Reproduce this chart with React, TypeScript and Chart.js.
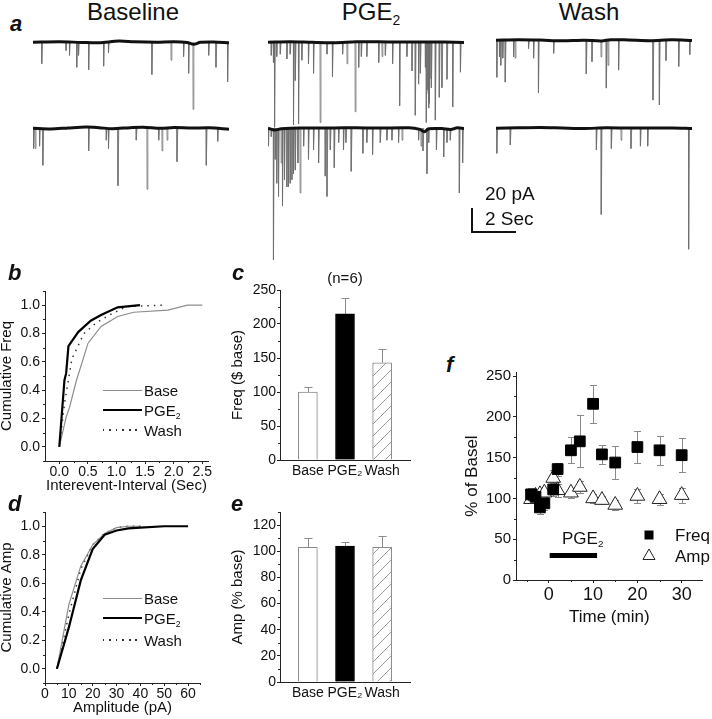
import React, { useEffect, useRef } from 'react';
import { Chart, registerables } from 'chart.js';

Chart.register(...registerables);

const FONT = '"Liberation Sans", Arial, Helvetica, sans-serif';
Chart.defaults.font.family = FONT;

// ---------------- Panel a : sEPSC traces (spike time in s, amplitude in pA) ----------------
const traceDuration = 8.9;
const baseRow1Spikes: [number, number][] = [[0.39, 18], [1.49, 7], [1.65, 11], [1.98, 21], [2.06, 11], [2.52, 23], [3.2, 20], [3.42, 9], [5.39, 27], [6.26, 15], [6.83, 12], [7.06, 26], [7.26, 56], [7.97, 11], [8.3, 21], [8.83, 33]];
const baseRow2Spikes: [number, number][] = [[0.02, 17], [0.09, 17], [0.29, 15], [0.44, 31], [2.52, 19], [3.32, 10], [3.42, 17], [3.85, 48], [4.68, 10], [5.17, 51], [5.7, 10], [5.85, 19], [6.08, 10], [6.53, 28], [7.86, 31], [8.38, 11]];
const pgeRow1Spikes: [number, number][] = [[0.14, 11], [0.24, 17], [0.29, 71], [0.39, 12], [0.55, 10], [0.85, 14], [1.0, 10], [1.15, 69], [1.23, 32], [1.38, 68], [1.53, 15], [1.83, 18], [2.06, 26], [2.36, 67], [2.67, 10], [2.92, 29], [3.38, 10], [3.58, 18], [3.95, 58], [4.11, 21], [4.23, 12], [4.48, 12], [5.02, 17], [5.17, 12], [5.32, 11], [5.65, 18], [5.97, 53], [6.3, 12], [6.53, 24], [6.68, 61], [6.83, 35], [6.91, 26], [7.14, 21], [7.18, 67], [7.22, 40], [7.26, 43], [7.29, 55], [7.32, 51], [7.35, 30], [7.41, 38], [7.59, 65], [7.77, 46], [7.89, 38], [8.12, 31], [8.38, 54], [8.73, 25]];
const pgeRow2Spikes: [number, number][] = [[0.01, 15], [0.14, 7], [0.24, 110], [0.32, 26], [0.39, 46], [0.47, 57], [0.59, 29], [0.65, 65], [0.74, 43], [0.85, 49], [0.92, 49], [1.0, 46], [1.08, 43], [1.15, 38], [1.23, 35], [1.35, 29], [1.45, 54], [1.61, 15], [1.83, 26], [2.06, 18], [2.29, 29], [2.59, 40], [2.67, 57], [2.82, 18], [3.0, 33], [3.2, 12], [3.42, 18], [3.53, 12], [3.77, 36], [4.3, 21], [4.48, 12], [4.74, 22], [5.09, 12], [5.39, 10], [5.62, 10], [5.92, 12], [6.08, 10], [6.83, 10], [6.94, 15], [7.03, 19], [7.21, 38], [7.29, 12], [7.64, 18], [7.97, 24], [8.12, 12], [8.27, 10], [8.68, 54], [8.83, 29]];
const washRow1Spikes: [number, number][] = [[0.03, 31], [0.15, 14], [0.21, 21], [0.3, 15], [0.41, 35], [0.79, 14], [0.86, 15], [1.47, 7], [1.7, 15], [1.92, 44], [2.61, 11], [4.09, 28], [4.35, 18], [4.76, 14], [5.0, 40], [5.08, 21], [5.56, 25], [7.12, 50], [7.41, 54], [7.71, 17], [8.29, 22], [8.79, 12]];
const washRow2Spikes: [number, number][] = [[0.03, 21], [0.64, 14], [4.55, 18], [4.77, 72], [5.23, 17], [5.67, 10], [6.12, 17], [6.55, 15], [6.88, 15], [8.74, 101]];

// slow baseline drift of each trace (time s, pA)
const baseRow1Drift: [number, number][] = [[0, 0], [1.2, 0.4], [2.2, -0.2], [3.0, -0.5], [3.9, 0.9], [4.6, 0.3], [5.6, 0], [6.4, 0.3], [7.0, -0.3], [7.3, -1.8], [7.6, -0.1], [8.2, 0.2], [8.9, -0.4]];
const baseRow2Drift: [number, number][] = [[0, 0], [0.8, -0.6], [1.6, 0.2], [2.4, 0.9], [3.0, 0.4], [3.6, -0.4], [4.4, 0.4], [5.0, 0.8], [5.8, -0.1], [6.4, 0.6], [7.2, 0.1], [8.0, 0.3], [8.9, -0.8]];
const pgeRow1Drift: [number, number][] = [[0, 0], [1, 0.4], [2, -0.1], [3, -0.4], [4, 0.3], [5, 0.4], [6, 0.1], [7, 0.2], [8, 0.1], [8.9, -0.2]];
const pgeRow2Drift: [number, number][] = [[0, 0], [0.3, -1.5], [0.6, -0.5], [1.5, 0.2], [3, 0.2], [4, 0.4], [5, 0.1], [6.4, 0.3], [6.9, -1], [7.1, -3], [7.3, -0.5], [7.9, -0.3], [8.3, -1], [8.6, 0.4], [8.9, -0.3]];
const washRow1Drift: [number, number][] = [[0, 0], [1, 0.4], [2, 0.1], [3, -0.5], [4, -0.1], [4.8, -0.6], [5.2, 0.4], [6, 0.2], [7, -0.4], [8, 0.3], [8.9, -0.3]];
const washRow2Drift: [number, number][] = [[0, 0], [1, 0.3], [2, 0.6], [3, 0.2], [4, -0.2], [5, 0.3], [6, 0.1], [7, 0.1], [8, 0.2], [8.9, -0.3]];

// ---------------- Panel b : cumulative inter-event interval ----------------
const ieiBaseX = [0, 0.12, 0.18, 0.3, 0.41, 0.5, 0.73, 1.02, 1.3, 1.9, 2.24, 2.5];
const ieiBaseY = [0, 0.21, 0.28, 0.47, 0.61, 0.73, 0.85, 0.92, 0.95, 0.965, 1.0, 1.0];
const ieiPgeX = [0, 0.09, 0.12, 0.16, 0.33, 0.55, 0.73, 1.02, 1.41];
const ieiPgeY = [0, 0.47, 0.52, 0.71, 0.81, 0.89, 0.93, 0.985, 1.0];
const ieiWashX = [0, 0.05, 0.1, 0.22, 0.43, 0.66, 0.92, 1.18, 1.83];
const ieiWashY = [0, 0.17, 0.33, 0.62, 0.8, 0.88, 0.94, 0.99, 1.0];
const ieiXTicks = [0, 0.5, 1.0, 1.5, 2.0, 2.5];
const cumTicks = [0, 0.2, 0.4, 0.6, 0.8, 1.0];

// ---------------- Panel c / e : bar charts ----------------
const barCategories = ['Base', 'PGE\u2082', 'Wash'];
const freqMeans = [100, 215, 143];
const freqErrors = [8, 23, 20];
const freqTicks = [0, 50, 100, 150, 200, 250];
const ampMeans = [103, 104, 103];
const ampErrors = [7, 3, 9];
const ampTicks = [0, 20, 40, 60, 80, 100, 120];

// ---------------- Panel d : cumulative amplitude ----------------
const ampBaseX = [5, 10, 15, 20, 25, 30, 35, 40];
const ampBaseY = [0, 0.45, 0.72, 0.87, 0.95, 0.99, 1.0, 1.0];
const ampPgeX = [5, 10, 15, 20, 25, 30, 35, 40, 50, 60];
const ampPgeY = [0, 0.29, 0.62, 0.84, 0.94, 0.97, 0.985, 0.99, 1.0, 1.0];
const ampWashX = [5, 10, 15, 20, 25, 30, 35, 40];
const ampWashY = [0, 0.38, 0.7, 0.87, 0.95, 0.99, 1.0, 1.0];
const ampXTicks = [0, 10, 20, 30, 40, 50, 60];

// ---------------- Panel f : time course ----------------
const timeMin = [-4, -3, -2, -1, 1, 2, 5, 7, 10, 12, 15, 20, 25, 30];
const freqPct = [105, 102, 89, 94, 111, 136, 159, 170, 216, 154, 144, 163, 159, 153];
const freqPctErr = [8, 6, 8, 8, 8, 8, 16, 32, 23, 12, 20, 20, 18, 21];
const ampPct = [99, 103, 105, 107, 125, 110, 107, 114, 100, 98, 92, 103, 99, 104];
const ampPctErr = [5, 6, 5, 5, 10, 8, 6, 7, 5, 5, 6, 8, 7, 9];
const pgeApplication = [0.2, 10.9];
const pgeBarLevel = 30;
const pctTicks = [0, 50, 100, 150, 200, 250];
const timeTicks = [0, 10, 20, 30];

// ---------------- helpers ----------------
type Area = { l: number; t: number; r: number; b: number };

const zip = (xs: number[], ys: number[]) => xs.map((x, i) => ({ x, y: ys[i] }));
const steps = (from: number, to: number, step: number) => {
  const out: number[] = [];
  for (let v = from; v <= to + 1e-9; v += step) out.push(+v.toFixed(4));
  return out;
};

function minorTicks(xs: number[], ys: number[]) {
  return {
    id: 'minorTicks',
    afterDraw(chart: any) {
      const ctx = chart.ctx;
      const ca = chart.chartArea;
      ctx.save();
      ctx.strokeStyle = '#222';
      ctx.lineWidth = 1;
      ctx.beginPath();
      xs.forEach((v) => {
        const px = Math.round(chart.scales.x.getPixelForValue(v)) + 0.5;
        ctx.moveTo(px, ca.bottom);
        ctx.lineTo(px, ca.bottom + 2);
      });
      ys.forEach((v) => {
        const py = Math.round(chart.scales.y.getPixelForValue(v)) + 0.5;
        ctx.moveTo(ca.left, py);
        ctx.lineTo(ca.left - 2, py);
      });
      ctx.stroke();
      ctx.restore();
    },
  };
}

const errorBarPlugin = {
  id: 'errBars',
  beforeDatasetsDraw(chart: any) {
    const ctx = chart.ctx;
    const ys = chart.scales.y;
    chart.data.datasets.forEach((ds: any, di: number) => {
      if (!ds.errors) return;
      const meta = chart.getDatasetMeta(di);
      ctx.save();
      ctx.strokeStyle = ds.errColor || '#8a8a8a';
      ctx.lineWidth = 1;
      ctx.beginPath();
      meta.data.forEach((el: any, i: number) => {
        const raw = ds.data[i];
        const v = typeof raw === 'number' ? raw : raw.y;
        const e = ds.errors[i];
        const x = Math.round(el.x) + 0.5;
        const yHi = Math.round(ys.getPixelForValue(v + e)) + 0.5;
        const yLo = ds.errBoth ? Math.round(ys.getPixelForValue(v - e)) + 0.5 : el.y;
        const c = ds.capHalf || 4;
        ctx.moveTo(x, yLo);
        ctx.lineTo(x, yHi);
        ctx.moveTo(x - c, yHi);
        ctx.lineTo(x + c, yHi);
        if (ds.errBoth) {
          ctx.moveTo(x - c, yLo);
          ctx.lineTo(x + c, yLo);
        }
      });
      ctx.stroke();
      ctx.restore();
    });
  },
};

function linAxis(o: {
  axis: 'x' | 'y';
  min: number;
  max: number;
  ticks: number[];
  size: number;
  fmt: (v: number) => string;
  tickSize: number;
  title?: string;
  titleSize?: number;
  drawTicks?: boolean;
  pad?: number;
}) {
  const isY = o.axis === 'y';
  return {
    type: 'linear',
    position: isY ? 'left' : 'bottom',
    min: o.min,
    max: o.max,
    offset: false,
    afterBuildTicks: (s: any) => {
      s.ticks = o.ticks.map((v) => ({ value: v }));
    },
    afterFit: (s: any) => {
      if (isY) {
        s.width = o.size;
        s.paddingTop = 0;
        s.paddingBottom = 0;
      } else {
        s.height = o.size;
        s.paddingLeft = 0;
        s.paddingRight = 0;
      }
    },
    ticks: {
      autoSkip: false,
      maxRotation: 0,
      minRotation: 0,
      padding: o.pad ?? 2,
      color: '#111',
      font: { size: o.tickSize, family: FONT },
      callback: (v: any) => o.fmt(Number(v)),
    },
    grid: { offset: false, drawOnChartArea: false, drawTicks: o.drawTicks ?? true, tickLength: 3, color: '#222', lineWidth: 1 },
    border: { display: true, color: '#222', width: 1 },
    title: o.title
      ? { display: true, text: o.title, color: '#111', font: { size: o.titleSize, family: FONT }, padding: 0 }
      : { display: false },
  };
}

function hatchPattern(): CanvasPattern | string {
  const c = document.createElement('canvas');
  const n = 12;
  c.width = n;
  c.height = n;
  const g = c.getContext('2d');
  if (!g) return '#fff';
  g.fillStyle = '#fff';
  g.fillRect(0, 0, n, n);
  g.strokeStyle = '#9a9a9a';
  g.lineWidth = 1;
  g.beginPath();
  g.moveTo(0, n);
  g.lineTo(n, 0);
  g.moveTo(-2, 2);
  g.lineTo(2, -2);
  g.moveTo(n - 2, n + 2);
  g.lineTo(n + 2, n - 2);
  g.stroke();
  return g.createPattern(c, 'repeat') || '#fff';
}

function ChartCanvas(props: { area: Area; yW?: number; xH?: number; pt?: number; pr?: number; build: () => any }) {
  const { area, yW = 0, xH = 0, pt = 0, pr = 0, build } = props;
  const ref = useRef<HTMLCanvasElement | null>(null);
  const w = Math.round(area.r - area.l + yW + pr);
  const h = Math.round(area.b - area.t + pt + xH);
  useEffect(() => {
    const cfg = build();
    const userOpts = cfg.options || {};
    cfg.options = {
      responsive: false,
      maintainAspectRatio: false,
      animation: false,
      devicePixelRatio: 1,
      events: [],
      ...userOpts,
      layout: { padding: { top: pt, right: pr, left: 0, bottom: 0 } },
      plugins: { legend: { display: false }, tooltip: { enabled: false }, ...(userOpts.plugins || {}) },
    };
    const chart = new Chart(ref.current as HTMLCanvasElement, cfg);
    return () => chart.destroy();
  }, []);
  return (
    <canvas
      ref={ref}
      width={w}
      height={h}
      style={{ position: 'absolute', left: area.l - yW, top: area.t - pt, width: w, height: h }}
    />
  );
}

// ---------------- chart builders ----------------
const TRACE_MIN = -115;
const TRACE_MAX = 6;
const TRACE_H = 145;

function traceBuild(spikes: [number, number][], drift: [number, number][]) {
  return () => {
    const spikePts: { x: number; y: number | null }[] = [];
    spikes.forEach(([t, a]) => {
      spikePts.push({ x: t, y: 0 }, { x: t + 0.008, y: -a }, { x: t + 0.045, y: 0 }, { x: t + 0.045, y: null });
    });
    return {
      type: 'line',
      data: {
        datasets: [
          { data: drift.map(([x, y]) => ({ x, y })), borderColor: '#111', borderWidth: 3, pointRadius: 0, tension: 0.3 },
          { data: spikePts, borderColor: 'rgba(110,110,110,0.75)', borderWidth: 1, pointRadius: 0, spanGaps: false, tension: 0 },
        ],
      },
      options: {
        scales: {
          x: { type: 'linear', display: false, min: 0, max: traceDuration },
          y: { type: 'linear', display: false, min: TRACE_MIN, max: TRACE_MAX },
        },
      },
    };
  };
}

function cumulativeBuild(
  base: { x: number; y: number }[],
  pge: { x: number; y: number }[],
  wash: { x: number; y: number }[],
  x: { min: number; max: number; ticks: number[]; fmt: (v: number) => string; title: string; minor: number[] },
  yTitle: string,
) {
  return () => ({
    type: 'line',
    data: {
      datasets: [
        { data: pge, borderColor: '#000', borderWidth: 2.2, pointRadius: 0, tension: 0 },
        { data: base, borderColor: '#8c8c8c', borderWidth: 1.2, pointRadius: 0, tension: 0 },
        { data: wash, borderColor: '#333', borderWidth: 1.5, borderDash: [1.5, 5], pointRadius: 0, tension: 0 },
      ],
    },
    options: {
      scales: {
        x: linAxis({ axis: 'x', min: x.min, max: x.max, ticks: x.ticks, size: 34, fmt: x.fmt, tickSize: 14, title: x.title, titleSize: 15, pad: 0 }),
        y: linAxis({ axis: 'y', min: -0.1, max: 1.1, ticks: cumTicks, size: 47, fmt: (v) => v.toFixed(1), tickSize: 14, title: yTitle, titleSize: 15, pad: 2 }),
      },
    },
    plugins: [minorTicks(x.minor, [-0.1, 0.1, 0.3, 0.5, 0.7, 0.9, 1.1])],
  });
}

function barBuild(means: number[], errors: number[], yMax: number, ticks: number[], minorY: number[], yTitle: string) {
  return () => ({
    type: 'bar',
    data: {
      datasets: [
        {
          data: means.map((m, i) => ({ x: i + 1, y: m })),
          backgroundColor: ['#ffffff', '#000000', hatchPattern()],
          borderColor: ['#8a8a8a', '#000000', '#8a8a8a'],
          borderWidth: 1,
          barThickness: 19,
          errors,
          capHalf: 4,
        },
      ],
    },
    options: {
      scales: {
        x: linAxis({ axis: 'x', min: 0.25, max: 3.75, ticks: [1, 2, 3], size: 22, fmt: (v) => barCategories[Math.round(v) - 1] || '', tickSize: 14, drawTicks: false, pad: 3 }),
        y: linAxis({ axis: 'y', min: 0, max: yMax, ticks, size: 51, fmt: (v) => String(v), tickSize: 14, title: yTitle, titleSize: 15, pad: 1 }),
      },
    },
    plugins: [errorBarPlugin, minorTicks([], minorY)],
  });
}

function timeCourseBuild() {
  return () => ({
    type: 'scatter',
    data: {
      datasets: [
        {
          data: zip(timeMin, freqPct),
          pointStyle: 'rect',
          pointRadius: 7.6,
          backgroundColor: '#000',
          borderColor: '#000',
          borderWidth: 1,
          errors: freqPctErr,
          errBoth: true,
          capHalf: 3.5,
        },
        {
          data: zip(timeMin, ampPct),
          pointStyle: 'triangle',
          pointRadius: 8.5,
          backgroundColor: '#fff',
          borderColor: '#222',
          borderWidth: 1,
          errors: ampPctErr,
          errBoth: true,
          capHalf: 3.5,
        },
        {
          data: pgeApplication.map((x) => ({ x, y: pgeBarLevel })),
          showLine: true,
          borderColor: '#000',
          borderWidth: 5,
          borderCapStyle: 'butt',
          pointRadius: 0,
        },
      ],
    },
    options: {
      scales: {
        x: linAxis({ axis: 'x', min: -7.4, max: 34.7, ticks: timeTicks, size: 48, fmt: (v) => String(v), tickSize: 18, title: 'Time (min)', titleSize: 17, pad: 1 }),
        y: linAxis({ axis: 'y', min: 0, max: 255, ticks: pctTicks, size: 54, fmt: (v) => String(v), tickSize: 15, title: '% of Basel', titleSize: 17, pad: 2 }),
      },
    },
    plugins: [errorBarPlugin, minorTicks([-5, 5, 15, 25], steps(25, 225, 50))],
  });
}

// ---------------- HTML text ----------------
function Txt(props: { x: number; y: number; size: number; align?: 'left' | 'center'; bold?: boolean; italic?: boolean; children: any }) {
  const { x, y, size, align = 'left', bold = false, italic = false, children } = props;
  return (
    <div
      style={{
        position: 'absolute',
        left: x,
        top: y - 0.8465 * size,
        fontSize: size,
        lineHeight: `${size}px`,
        whiteSpace: 'nowrap',
        fontWeight: bold ? 'bold' : 'normal',
        fontStyle: italic ? 'italic' : 'normal',
        color: '#111',
        transform: align === 'center' ? 'translateX(-50%)' : undefined,
      }}
    >
      {children}
    </div>
  );
}

const Sub = () => <span style={{ fontSize: '0.58em', position: 'relative', top: '0.35em' }}>2</span>;

function LineSample(props: { x: number; y: number; w: number; kind: 'base' | 'pge' | 'wash' }) {
  const { x, y, w, kind } = props;
  const common: any = { position: 'absolute', left: x, width: w };
  if (kind === 'base') return <div style={{ ...common, top: y - 0.5, height: 1.2, background: '#8c8c8c' }} />;
  if (kind === 'pge') return <div style={{ ...common, top: y - 1, height: 2.2, background: '#000' }} />;
  return (
    <div
      style={{
        ...common,
        top: y - 0.75,
        height: 1.5,
        backgroundImage: 'repeating-linear-gradient(to right, #333 0px, #333 1.5px, transparent 1.5px, transparent 6.5px)',
      }}
    />
  );
}

function Legend3(props: { y0: number; y1: number; y2: number }) {
  const { y0, y1, y2 } = props;
  return (
    <>
      <LineSample x={103} y={y0} w={39} kind="base" />
      <LineSample x={103} y={y1} w={39} kind="pge" />
      <LineSample x={103} y={y2} w={39} kind="wash" />
      <Txt x={144} y={y0 + 5.4} size={15}>Base</Txt>
      <Txt x={144} y={y1 + 5.4} size={15}>PGE<Sub /></Txt>
      <Txt x={144} y={y2 + 5.4} size={15}>Wash</Txt>
    </>
  );
}

const traceCols = [
  { l: 33, r: 229 },
  { l: 268, r: 464 },
  { l: 496, r: 692 },
];

function traceArea(col: number, baseline: number): Area {
  const t = baseline - Math.round(TRACE_MAX * (TRACE_H / (TRACE_MAX - TRACE_MIN)));
  return { l: traceCols[col].l, r: traceCols[col].r, t, b: t + TRACE_H };
}

export default function App() {
  return (
    <div
      style={{
        position: 'fixed',
        left: 0,
        top: 0,
        width: 712,
        height: 719,
        overflow: 'hidden',
        background: '#fff',
        fontFamily: FONT,
      }}
    >
      {/* panel a traces */}
      <ChartCanvas area={traceArea(0, 42)} build={traceBuild(baseRow1Spikes, baseRow1Drift)} />
      <ChartCanvas area={traceArea(1, 42)} build={traceBuild(pgeRow1Spikes, pgeRow1Drift)} />
      <ChartCanvas area={traceArea(2, 40)} build={traceBuild(washRow1Spikes, washRow1Drift)} />
      <ChartCanvas area={traceArea(0, 128)} build={traceBuild(baseRow2Spikes, baseRow2Drift)} />
      <ChartCanvas area={traceArea(1, 128)} build={traceBuild(pgeRow2Spikes, pgeRow2Drift)} />
      <ChartCanvas area={traceArea(2, 128)} build={traceBuild(washRow2Spikes, washRow2Drift)} />

      {/* panel b */}
      <ChartCanvas
        area={{ l: 45, t: 291, r: 208, b: 461 }}
        yW={47}
        xH={34}
        pt={6}
        pr={8}
        build={cumulativeBuild(
          zip(ieiBaseX, ieiBaseY),
          zip(ieiPgeX, ieiPgeY),
          zip(ieiWashX, ieiWashY),
          { min: -0.25, max: 2.6, ticks: ieiXTicks, fmt: (v) => v.toFixed(1), title: 'Interevent-Interval (Sec)', minor: [0.25, 0.75, 1.25, 1.75, 2.25] },
          'Cumulative Freq',
        )}
      />
      {/* panel d */}
      <ChartCanvas
        area={{ l: 45, t: 512, r: 200, b: 682 }}
        yW={47}
        xH={35}
        pt={6}
        pr={8}
        build={cumulativeBuild(
          zip(ampBaseX, ampBaseY),
          zip(ampPgeX, ampPgeY),
          zip(ampWashX, ampWashY),
          { min: 0, max: 65, ticks: ampXTicks, fmt: (v) => String(v), title: 'Amplitude (pA)', minor: [5, 15, 25, 35, 45, 55, 65] },
          'Cumulative Amp',
        )}
      />
      {/* panel c */}
      <ChartCanvas
        area={{ l: 280, t: 290, r: 410, b: 460 }}
        yW={51}
        xH={22}
        pt={10}
        pr={4}
        build={barBuild(freqMeans, freqErrors, 250, freqTicks, steps(25, 225, 50), 'Freq ($ base)')}
      />
      {/* panel e */}
      <ChartCanvas
        area={{ l: 280, t: 512, r: 410, b: 682 }}
        yW={51}
        xH={22}
        pt={6}
        pr={4}
        build={barBuild(ampMeans, ampErrors, 130, ampTicks, steps(10, 130, 20), 'Amp (% base)')}
      />
      {/* panel f */}
      <ChartCanvas area={{ l: 516, t: 372, r: 710, b: 580 }} yW={54} xH={48} pt={10} pr={2} build={timeCourseBuild()} />

      {/* titles of panel a */}
      <Txt x={133} y={20} size={24} align="center">Baseline</Txt>
      <Txt x={371} y={20} size={24} align="center">PGE<Sub /></Txt>
      <Txt x={589} y={20} size={24} align="center">Wash</Txt>

      {/* scale bar */}
      <div style={{ position: 'absolute', left: 471, top: 208, width: 2, height: 25, background: '#111' }} />
      <div style={{ position: 'absolute', left: 471, top: 231, width: 45, height: 2, background: '#111' }} />
      <Txt x={485} y={200} size={19}>20 pA</Txt>
      <Txt x={485} y={225} size={19}>2 Sec</Txt>

      {/* panel letters */}
      <Txt x={10} y={32} size={22} bold italic>a</Txt>
      <Txt x={8} y={281} size={22} bold italic>b</Txt>
      <Txt x={232} y={281} size={22} bold italic>c</Txt>
      <Txt x={8} y={512} size={22} bold italic>d</Txt>
      <Txt x={231} y={512} size={22} bold italic>e</Txt>
      <Txt x={446} y={373} size={22} bold italic>f</Txt>

      <Txt x={345} y={283} size={15} align="center">(n=6)</Txt>

      {/* legends b and d */}
      <Legend3 y0={390} y1={410} y2={430} />
      <Legend3 y0={598} y1={618} y2={640} />

      {/* legend f */}
      <svg style={{ position: 'absolute', left: 638, top: 524, width: 24, height: 44 }} width={24} height={44}>
        <rect x={6.5} y={6.5} width={9} height={9} fill="#000" />
        <polygon points="11,25 17,35.5 5,35.5" fill="#fff" stroke="#222" strokeWidth={1} />
      </svg>
      <Txt x={675} y={541} size={17}>Freq</Txt>
      <Txt x={675} y={562} size={17}>Amp</Txt>
      <Txt x={562} y={544} size={17}>PGE<Sub /></Txt>
    </div>
  );
}
